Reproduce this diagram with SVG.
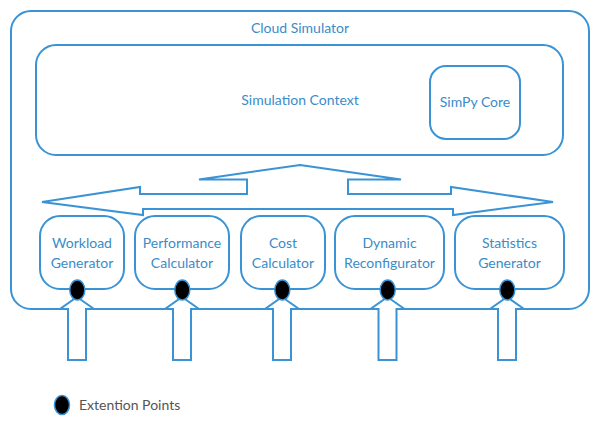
<svg xmlns="http://www.w3.org/2000/svg" width="600" height="428" viewBox="0 0 600 428">
<style>
.box{fill:#fff;stroke:#3a93d5;stroke-width:2}
.ln{fill:#fff;stroke:#3a93d5;stroke-width:2;stroke-linejoin:miter}
.ep{fill:#000;stroke:#3a93d5;stroke-width:1.5}
.t{font-family:Lato,"Liberation Sans",sans-serif;font-size:14px;fill:#3a8cc8;text-anchor:middle}
.lg{font-family:Lato,"Liberation Sans",sans-serif;font-size:14px;fill:#555}
</style>
<rect width="600" height="428" fill="#fff"/>
<g id="cloud-simulator">
<rect class="box" x="11" y="11" width="578" height="298" rx="20"/>
<text class="t" x="300" y="33">Cloud Simulator</text>
</g>
<g id="simulation-context">
<rect class="box" x="36" y="45" width="527" height="110" rx="20"/>
<text class="t" x="300" y="105">Simulation Context</text>
</g>
<g id="simpy-core">
<rect class="box" x="430" y="66" width="90" height="73" rx="16"/>
<text class="t" x="475" y="107">SimPy Core</text>
</g>
<g id="connectors">
<path class="ln" d="M300,165 L401,179.5 L348,179.5 L348,194 L451,194 L451,187 L553,202 L453,215 L453,209 L143,209 L143,215 L42,202 L140,187 L140,194 L247,194 L247,179.5 L199,179.5 Z"/>
</g>
<g id="workload-generator">
<rect class="box" x="40" y="216" width="84" height="73" rx="20"/>
<text class="t" x="82" y="248">Workload</text>
<text class="t" x="82" y="268">Generator</text>
</g>
<g id="performance-calculator">
<rect class="box" x="135" y="216" width="94" height="73" rx="20"/>
<text class="t" x="182" y="248">Performance</text>
<text class="t" x="182" y="268">Calculator</text>
</g>
<g id="cost-calculator">
<rect class="box" x="241" y="216" width="84" height="73" rx="20"/>
<text class="t" x="283" y="248">Cost</text>
<text class="t" x="283" y="268">Calculator</text>
</g>
<g id="dynamic-reconfigurator">
<rect class="box" x="335" y="216" width="109" height="73" rx="20"/>
<text class="t" x="389.5" y="248">Dynamic</text>
<text class="t" x="389.5" y="268">Reconfigurator</text>
</g>
<g id="statistics-generator">
<rect class="box" x="455" y="216" width="109" height="73" rx="20"/>
<text class="t" x="509.5" y="248">Statistics</text>
<text class="t" x="509.5" y="268">Generator</text>
</g>
<g id="extension-arrows">
<path class="ln" d="M77,297 L94,309 L86,309 L86,360 L68,360 L68,309 L60,309 Z"/>
<path class="ln" d="M182,297 L199,309 L191,309 L191,360 L173,360 L173,309 L165,309 Z"/>
<path class="ln" d="M282,297 L299,309 L291,309 L291,360 L273,360 L273,309 L265,309 Z"/>
<path class="ln" d="M387.5,297 L404.5,309 L396.5,309 L396.5,360 L378.5,360 L378.5,309 L370.5,309 Z"/>
<path class="ln" d="M507,297 L524,309 L516,309 L516,360 L498,360 L498,309 L490,309 Z"/>
</g>
<g id="extension-points">
<ellipse class="ep" cx="77.3" cy="290" rx="7.5" ry="10"/>
<ellipse class="ep" cx="182.3" cy="290" rx="7.5" ry="10"/>
<ellipse class="ep" cx="282.3" cy="290" rx="7.5" ry="10"/>
<ellipse class="ep" cx="387.7" cy="290" rx="7.5" ry="10"/>
<ellipse class="ep" cx="507.3" cy="290" rx="7.5" ry="10"/>
</g>
<g id="legend">
<ellipse class="ep" cx="62" cy="405" rx="7.5" ry="9.5"/>
<text class="lg" x="79" y="410">Extention Points</text>
</g>
</svg>
